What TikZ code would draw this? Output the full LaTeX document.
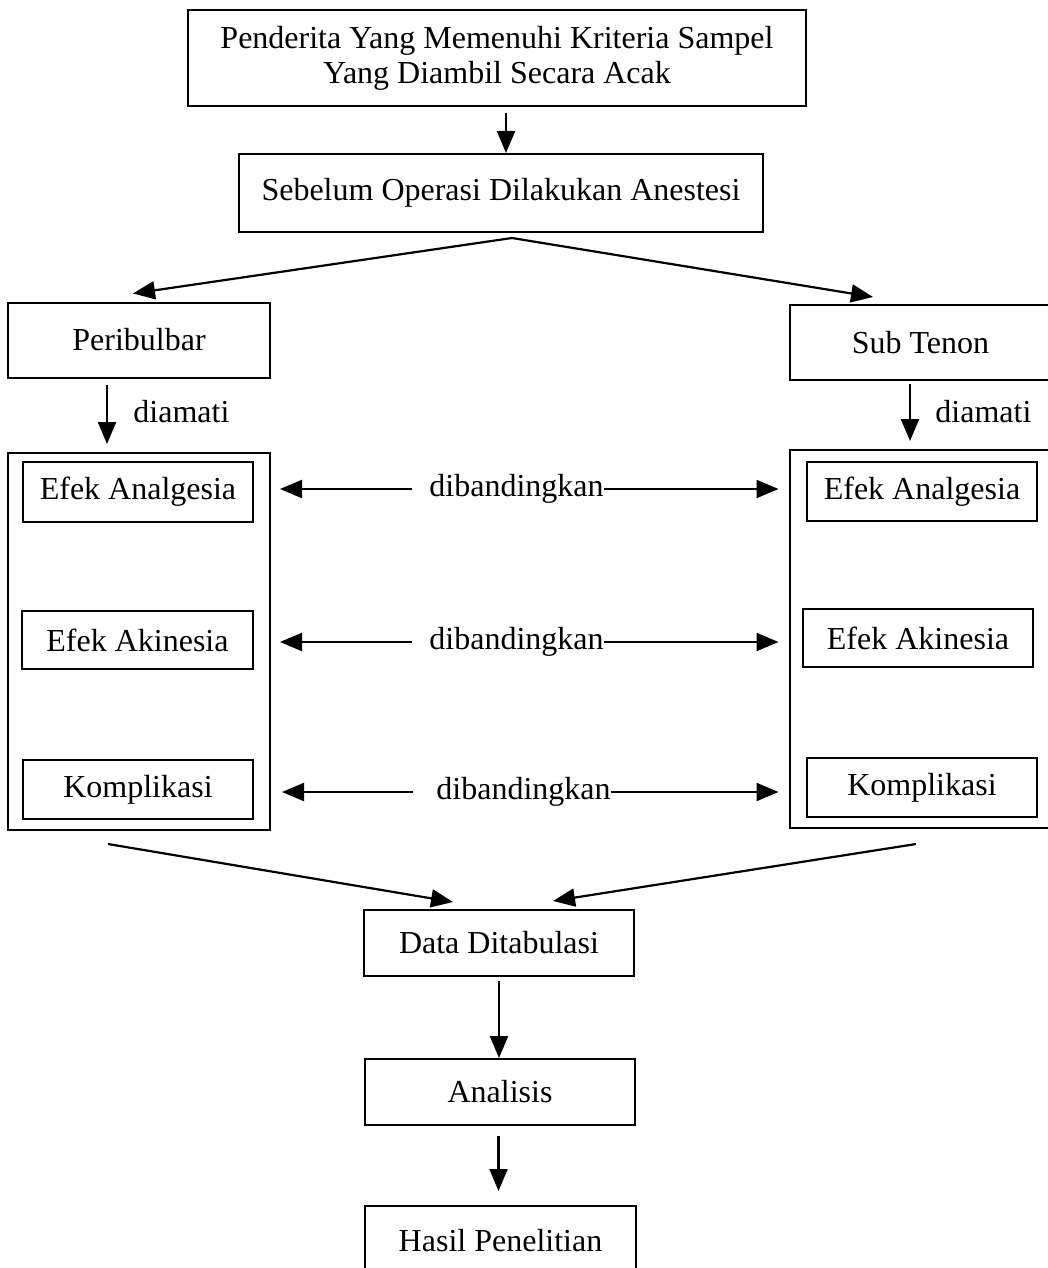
\documentclass[tikz,border=0pt]{standalone}
\usepackage{fontspec}
\setmainfont{Liberation Serif}
\usetikzlibrary{arrows.meta,calc}
\begin{document}
\begin{tikzpicture}[x=0.5pt,y=-0.5pt,
  box/.style={draw,line width=1pt,inner sep=0pt,align=center,font=\fontsize{16}{17.5}\selectfont},
  arr/.style={line width=1.1pt,-{Triangle[length=11pt,width=9pt]}},
  lbl/.style={inner sep=0pt,font=\fontsize{16}{17.5}\selectfont}]
\clip (0,0) rectangle (1048,1268);
\fill[white] (0,0) rectangle (1048,1268);
% main column
\node[box,minimum width=309pt,minimum height=48pt] (top) at (497,58) {Penderita Yang Memenuhi Kriteria Sampel\\Yang Diambil Secara Acak};
\node[box,minimum width=262pt,minimum height=39pt] (seb) at (501,193) {Sebelum Operasi Dilakukan Anestesi};
\node[box,minimum width=131pt,minimum height=37.5pt] (peri) at (139,340) {Peribulbar};
\node[box,minimum width=131pt,minimum height=37.5pt] (sub) at (920.5,342.5) {Sub Tenon};
% outer groups
\node[box,minimum width=131pt,minimum height=188.5pt] (lout) at (139,641.5) {};
\node[box,minimum width=131pt,minimum height=189pt] (rout) at (920.5,639) {};
% inner boxes
\node[box,minimum width=115pt,minimum height=30pt] (LA) at (138,492) {Efek Analgesia};
\node[box,minimum width=115.5pt,minimum height=29pt] (LB) at (137.5,640) {Efek Akinesia};
\node[box,minimum width=115pt,minimum height=29.5pt] (LC) at (138,789.5) {Komplikasi};
\node[box,minimum width=115pt,minimum height=29.5pt] (RA) at (922,491.5) {Efek Analgesia};
\node[box,minimum width=115pt,minimum height=29pt] (RB) at (918,638) {Efek Akinesia};
\node[box,minimum width=115pt,minimum height=29.5pt] (RC) at (922,787.5) {Komplikasi};
% bottom column
\node[box,minimum width=135pt,minimum height=33pt] (data) at (499,943) {Data Ditabulasi};
\node[box,minimum width=135pt,minimum height=33pt] (anal) at (500,1092) {Analisis};
\node[box,minimum width=135.5pt,minimum height=34.5pt] (hasil) at (500.5,1240.5) {Hasil Penelitian};
% labels
\node[lbl,anchor=west] (d1) at (133,412) {diamati};
\node[lbl,anchor=west] (d2) at (935,412) {diamati};
\node[lbl] (c1) at (516.5,489) {dibandingkan};
\node[lbl] (c2) at (516.5,642) {dibandingkan};
\node[lbl] (c3) at (523.5,792) {dibandingkan};
% connectors
\draw[arr] ([xshift=4.5pt,yshift=-3pt]top.south) coordinate (a1) -- (a1 |- seb.north);
\draw[arr] ([xshift=5.5pt,yshift=-2.5pt]seb.south) -- ([xshift=-3pt,yshift=4pt]peri.north);
\draw[arr] ([xshift=5.5pt,yshift=-2.5pt]seb.south) -- ([xshift=-23.75pt,yshift=3.5pt]sub.north);
\draw[arr] ([xshift=-16pt,yshift=-3pt]peri.south) coordinate (a2) -- ($(a2 |- lout.north)+(0,-8)$);
\draw[arr] ([xshift=-5.25pt,yshift=-1.5pt]sub.south) coordinate (a3) -- ($(a3 |- rout.north)+(0,-8)$);
\draw[arr] ([xshift=-8.5pt]c1.west) -- ($(c1.west -| lout.east)+(9,0)$);
\draw[arr] (c1.east) -- ($(c1.east -| rout.west)+(-10,0)$);
\draw[arr] ([xshift=-8.5pt]c2.west) -- ($(c2.west -| lout.east)+(9,0)$);
\draw[arr] (c2.east) -- ($(c2.east -| rout.west)+(-10,0)$);
\draw[arr] ([xshift=-11.5pt]c3.west) -- ($(c3.west -| lout.east)+(11,0)$);
\draw[arr] (c3.east) -- ($(c3.east -| rout.west)+(-10,0)$);
\draw[arr] ([xshift=-15.5pt,yshift=-6.5pt]lout.south) -- ([xshift=-23pt,yshift=3.5pt]data.north);
\draw[arr] ([xshift=-2.25pt,yshift=-7.5pt]rout.south) -- ([xshift=27pt,yshift=4pt]data.north);
\draw[arr] ([yshift=-2pt]data.south) coordinate (a4) -- (a4 |- anal.north);
\draw[arr] ([xshift=-0.75pt,yshift=-5pt]anal.south) coordinate (a5) -- ($(a5 |- hasil.north)+(0,-14)$);
\end{tikzpicture}
\end{document}
